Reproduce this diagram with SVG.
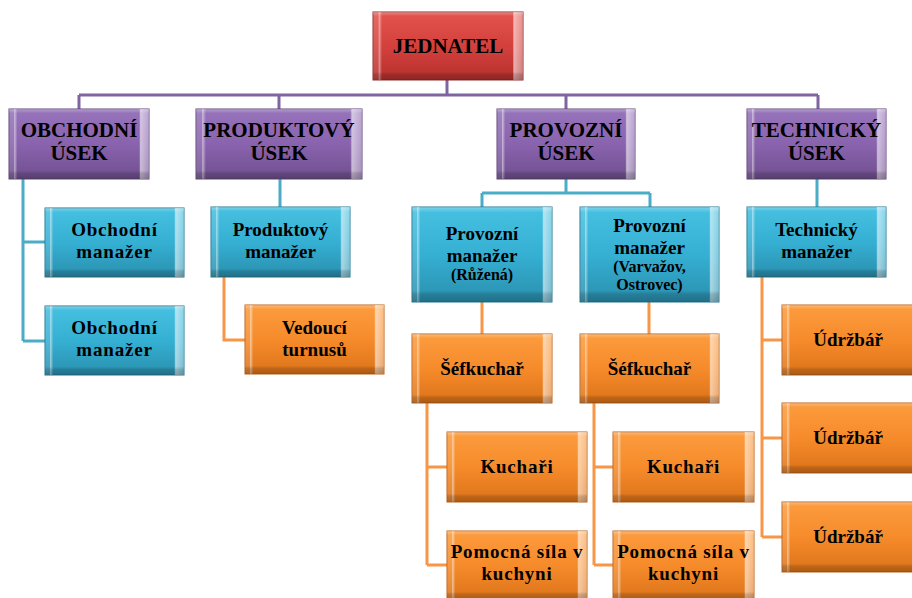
<svg xmlns="http://www.w3.org/2000/svg" width="912" height="598" viewBox="0 0 912 598">
<defs>
<linearGradient id="gRed" x1="0" y1="0" x2="0" y2="1"><stop offset="0" stop-color="#e4534e"/><stop offset="0.5" stop-color="#d4413d"/><stop offset="1" stop-color="#b5302d"/></linearGradient>
<linearGradient id="gPur" x1="0" y1="0" x2="0" y2="1"><stop offset="0" stop-color="#9674ba"/><stop offset="0.5" stop-color="#8a63ae"/><stop offset="1" stop-color="#6f4f8e"/></linearGradient>
<linearGradient id="gBlu" x1="0" y1="0" x2="0" y2="1"><stop offset="0" stop-color="#46c1e1"/><stop offset="0.5" stop-color="#35b0d3"/><stop offset="1" stop-color="#2a8fae"/></linearGradient>
<linearGradient id="gOra" x1="0" y1="0" x2="0" y2="1"><stop offset="0" stop-color="#fc9c3e"/><stop offset="0.5" stop-color="#f68b2b"/><stop offset="1" stop-color="#db7318"/></linearGradient>
<linearGradient id="hov" x1="0" y1="0" x2="1" y2="0">
<stop offset="0" stop-color="#fff" stop-opacity="0.12"/><stop offset="0.035" stop-color="#fff" stop-opacity="0.12"/>
<stop offset="0.04" stop-color="#fff" stop-opacity="0.5"/><stop offset="0.06" stop-color="#fff" stop-opacity="0"/>
<stop offset="0.93" stop-color="#fff" stop-opacity="0"/><stop offset="0.94" stop-color="#fff" stop-opacity="0.6"/>
<stop offset="1" stop-color="#fff" stop-opacity="0.35"/></linearGradient>
<linearGradient id="vov" x1="0" y1="0" x2="0" y2="1">
<stop offset="0" stop-color="#fff" stop-opacity="0.3"/><stop offset="0.06" stop-color="#fff" stop-opacity="0"/>
<stop offset="0.88" stop-color="#000" stop-opacity="0"/><stop offset="0.92" stop-color="#000" stop-opacity="0.15"/>
<stop offset="1" stop-color="#000" stop-opacity="0.22"/></linearGradient>
</defs>
<style>
.red{fill:url(#gRed);stroke:#8c2a28;stroke-width:1}
.pur{fill:url(#gPur);stroke:#5e4478;stroke-width:1}
.blu{fill:url(#gBlu);stroke:#23768f;stroke-width:1}
.ora{fill:url(#gOra);stroke:#b9621a;stroke-width:1}
.h{fill:url(#hov)}
.v{fill:url(#vov)}
text{font-family:"Liberation Serif","Times New Roman",serif;font-weight:bold;fill:#000;text-anchor:middle}
.t1{font-size:21px}
.t2{font-size:19px}
.t3{font-size:16px}
.ls{letter-spacing:0.8px}
.cp{fill:none;stroke:#8064a2;stroke-width:3}
.cb{fill:none;stroke:#4bacc6;stroke-width:3}
.co{fill:none;stroke:#f79646;stroke-width:3}
</style>
<g id="connectors">
<path class="cp" d="M447,80V95M79,95H818M79,95V109M279,95V109M566,95V109M818,95V109"/>
<path class="cb" d="M23,179V341M23,242H45M23,341H45M280,179V207M566,179V193M482,193H650M482,193V207M650,193V207M817,179V207"/>
<path class="co" d="M224,277V340H245M482,302V334M649,302V334M427,403V565M427,467H447M427,565H447M594,403V565M594,467H613M594,565H613M762,277V537M762,340H782M762,438H782M762,537H782"/>
</g>
<g id="jednatel"><rect class="red" x="373" y="12" width="150" height="68"/><rect class="h" x="373" y="12" width="150" height="68"/><rect class="v" x="373" y="12" width="150" height="68"/><text class="t1" x="448" y="53">JEDNATEL</text></g>
<g id="obchodni-usek"><rect class="pur" x="9" y="109" width="140" height="70"/><rect class="h" x="9" y="109" width="140" height="70"/><rect class="v" x="9" y="109" width="140" height="70"/><text class="t1" x="79" y="137">OBCHODNÍ</text><text class="t1" x="79" y="160">ÚSEK</text></g>
<g id="produktovy-usek"><rect class="pur" x="196" y="109" width="166" height="70"/><rect class="h" x="196" y="109" width="166" height="70"/><rect class="v" x="196" y="109" width="166" height="70"/><text class="t1" x="279" y="137">PRODUKTOVÝ</text><text class="t1" x="279" y="160">ÚSEK</text></g>
<g id="provozni-usek"><rect class="pur" x="497" y="109" width="138" height="70"/><rect class="h" x="497" y="109" width="138" height="70"/><rect class="v" x="497" y="109" width="138" height="70"/><text class="t1" x="566" y="137">PROVOZNÍ</text><text class="t1" x="566" y="160">ÚSEK</text></g>
<g id="technicky-usek"><rect class="pur" x="747" y="109" width="139" height="70"/><rect class="h" x="747" y="109" width="139" height="70"/><rect class="v" x="747" y="109" width="139" height="70"/><text class="t1" x="816.5" y="137">TECHNICKÝ</text><text class="t1" x="816.5" y="160">ÚSEK</text></g>
<g id="obchodni-manazer-1"><rect class="blu" x="45" y="208" width="139" height="69"/><rect class="h" x="45" y="208" width="139" height="69"/><rect class="v" x="45" y="208" width="139" height="69"/><text class="t2 ls" x="114.5" y="236">Obchodní</text><text class="t2 ls" x="114.5" y="258">manažer</text></g>
<g id="obchodni-manazer-2"><rect class="blu" x="45" y="306" width="139" height="69"/><rect class="h" x="45" y="306" width="139" height="69"/><rect class="v" x="45" y="306" width="139" height="69"/><text class="t2 ls" x="114.5" y="334">Obchodní</text><text class="t2 ls" x="114.5" y="356">manažer</text></g>
<g id="produktovy-manazer"><rect class="blu" x="211" y="207" width="139" height="70"/><rect class="h" x="211" y="207" width="139" height="70"/><rect class="v" x="211" y="207" width="139" height="70"/><text class="t2" x="280.5" y="236">Produktový</text><text class="t2" x="280.5" y="258">manažer</text></g>
<g id="vedouci-turnusu"><rect class="ora" x="245" y="305" width="139" height="69"/><rect class="h" x="245" y="305" width="139" height="69"/><rect class="v" x="245" y="305" width="139" height="69"/><text class="t2" x="314.5" y="334">Vedoucí</text><text class="t2" x="314.5" y="356">turnusů</text></g>
<g id="provozni-manazer-ruzena"><rect class="blu" x="412" y="207" width="140" height="95"/><rect class="h" x="412" y="207" width="140" height="95"/><rect class="v" x="412" y="207" width="140" height="95"/><text class="t2" x="482" y="240">Provozní</text><text class="t2" x="482" y="262">manažer</text><text class="t3" x="482" y="280">(Růžená)</text></g>
<g id="provozni-manazer-varvazov"><rect class="blu" x="580" y="207" width="139" height="95"/><rect class="h" x="580" y="207" width="139" height="95"/><rect class="v" x="580" y="207" width="139" height="95"/><text class="t2" x="649.5" y="232">Provozní</text><text class="t2" x="649.5" y="254">manažer</text><text class="t3" x="649.5" y="272">(Varvažov,</text><text class="t3" x="649.5" y="290">Ostrovec)</text></g>
<g id="sefkuchar-1"><rect class="ora" x="412" y="334" width="140" height="69"/><rect class="h" x="412" y="334" width="140" height="69"/><rect class="v" x="412" y="334" width="140" height="69"/><text class="t2" x="482" y="375">Šéfkuchař</text></g>
<g id="sefkuchar-2"><rect class="ora" x="580" y="334" width="139" height="69"/><rect class="h" x="580" y="334" width="139" height="69"/><rect class="v" x="580" y="334" width="139" height="69"/><text class="t2" x="649.5" y="375">Šéfkuchař</text></g>
<g id="kuchari-1"><rect class="ora" x="447" y="432" width="140" height="70"/><rect class="h" x="447" y="432" width="140" height="70"/><rect class="v" x="447" y="432" width="140" height="70"/><text class="t2 ls" x="517" y="473">Kuchaři</text></g>
<g id="kuchari-2"><rect class="ora" x="613" y="432" width="141" height="70"/><rect class="h" x="613" y="432" width="141" height="70"/><rect class="v" x="613" y="432" width="141" height="70"/><text class="t2 ls" x="683.5" y="473">Kuchaři</text></g>
<g id="pomocna-sila-1"><rect class="ora" x="447" y="531" width="140" height="69"/><rect class="h" x="447" y="531" width="140" height="69"/><rect class="v" x="447" y="531" width="140" height="69"/><text class="t2 ls" x="517" y="558">Pomocná síla v</text><text class="t2 ls" x="517" y="580">kuchyni</text></g>
<g id="pomocna-sila-2"><rect class="ora" x="613" y="531" width="141" height="69"/><rect class="h" x="613" y="531" width="141" height="69"/><rect class="v" x="613" y="531" width="141" height="69"/><text class="t2 ls" x="683.5" y="558">Pomocná síla v</text><text class="t2 ls" x="683.5" y="580">kuchyni</text></g>
<g id="technicky-manazer"><rect class="blu" x="747" y="207" width="139" height="70"/><rect class="h" x="747" y="207" width="139" height="70"/><rect class="v" x="747" y="207" width="139" height="70"/><text class="t2" x="816.5" y="236">Technický</text><text class="t2" x="816.5" y="258">manažer</text></g>
<g id="udrzbar-1"><rect class="ora" x="782" y="305" width="140" height="70"/><rect class="h" x="782" y="305" width="140" height="70"/><rect class="v" x="782" y="305" width="140" height="70"/><text class="t2" x="848" y="346">Údržbář</text></g>
<g id="udrzbar-2"><rect class="ora" x="782" y="403" width="140" height="70"/><rect class="h" x="782" y="403" width="140" height="70"/><rect class="v" x="782" y="403" width="140" height="70"/><text class="t2" x="848" y="444">Údržbář</text></g>
<g id="udrzbar-3"><rect class="ora" x="782" y="502" width="140" height="70"/><rect class="h" x="782" y="502" width="140" height="70"/><rect class="v" x="782" y="502" width="140" height="70"/><text class="t2" x="848" y="543">Údržbář</text></g>
</svg>
